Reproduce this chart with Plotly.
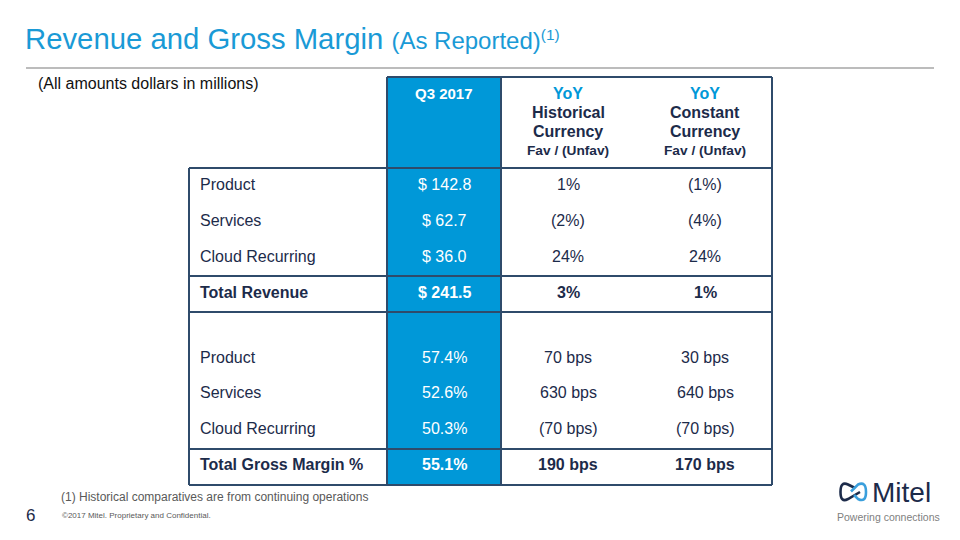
import plotly.graph_objects as go

# ---------------- data ----------------
title_main = "Revenue and Gross Margin"
title_sub = "(As Reported)"
title_sup = "(1)"
units_note = "(All amounts dollars in millions)"

col_q3_header = "Q3 2017"
col_hist_header = ["YoY", "Historical", "Currency", "Fav / (Unfav)"]
col_const_header = ["YoY", "Constant", "Currency", "Fav / (Unfav)"]

row_labels = ["Product", "Services", "Cloud Recurring", "Total Revenue",
              "Product", "Services", "Cloud Recurring", "Total Gross Margin %"]
q3_values = ["$ 142.8", "$ 62.7", "$ 36.0", "$ 241.5",
             "57.4%", "52.6%", "50.3%", "55.1%"]
yoy_hist = ["1%", "(2%)", "24%", "3%",
            "70 bps", "630 bps", "(70 bps)", "190 bps"]
yoy_const = ["(1%)", "(4%)", "24%", "1%",
             "30 bps", "640 bps", "(70 bps)", "170 bps"]
row_is_total = [False, False, False, True, False, False, False, True]

footnote = "(1) Historical comparatives are from continuing operations"
page_no = "6"
copyright_txt = "\u00a92017 Mitel. Proprietary and Confidential."
logo_word = "Mitel"
logo_tag = "Powering connections"

# ---------------- style / layout ----------------
FONT = "Liberation Sans, Arial, sans-serif"
BLUE = "#0098d8"
TITLE_BLUE = "#1a9ad6"
NAVY = "#1c2b4a"
BORDER = "#2f4b6b"
GREY = "#808080"

x_left, x_blue_l, x_blue_r, x_right = 189, 387, 501, 772
y_head_top, y_body_top, y_bottom = 77, 168, 485
row_lines = [276, 312, 449]
row_y = [184, 220, 256, 292, 357, 392, 428, 464]
x_label = 198
x_c2 = (x_blue_l + x_blue_r) / 2
x_c3, x_c4 = 568, 705
head_y = [93, 112, 131, 150]

fig = go.Figure()
fig.add_trace(go.Scatter(x=[0, 960], y=[0, 540], mode="markers",
                         marker=dict(opacity=0), hoverinfo="skip", showlegend=False))

shapes = []
# blue column
shapes.append(dict(type="rect", x0=x_blue_l, x1=x_blue_r, y0=y_head_top, y1=y_bottom,
                   fillcolor=BLUE, line=dict(width=0), layer="below"))
ln = dict(color=BORDER, width=2)
# header box
shapes.append(dict(type="line", x0=x_blue_l, x1=x_right, y0=y_head_top, y1=y_head_top, line=ln))
for xv, y0 in [(x_blue_l, y_head_top), (x_blue_r, y_head_top), (x_right, y_head_top), (x_left, y_body_top)]:
    shapes.append(dict(type="line", x0=xv, x1=xv, y0=y0, y1=y_bottom, line=ln))
for yv in [y_body_top] + row_lines + [y_bottom]:
    shapes.append(dict(type="line", x0=x_left, x1=x_right, y0=yv, y1=yv, line=ln))
# title rule
shapes.append(dict(type="line", x0=26, x1=934, y0=68, y1=68, line=dict(color="#a6a6a6", width=1.5)))

# logo icon (approximate bow-tie)
shapes.append(dict(type="path",
                   path="M 855,488 L 848,484.5 Q 840.5,481 840.5,492 Q 840.5,503 848,499 L 860,492",
                   line=dict(color=NAVY, width=2.6)))
shapes.append(dict(type="path",
                   path="M 851,491.5 L 858,484.5 Q 866,481 866,492 Q 866,503 858,499 L 854,495",
                   line=dict(color="#3a9fdc", width=2.6)))

ann = []
def txt(x, y, s, size, color=NAVY, bold=False, xanchor="center", yanchor="middle"):
    if bold:
        s = "<b>" + s + "</b>"
    ann.append(dict(x=x, y=y, xref="x", yref="y", text=s, showarrow=False,
                    xanchor=xanchor, yanchor=yanchor,
                    font=dict(family=FONT, size=size, color=color)))

# title
txt(23, 38, title_main + " <span style='font-size:24px'>" + title_sub + "</span>"
    + "<span style='font-size:22px'><sup>" + title_sup + "</sup></span>",
    29.3, TITLE_BLUE, xanchor="left")
txt(36, 83, units_note, 16, "#111111", xanchor="left")

# header
txt(x_c2, 93, col_q3_header, 15, "white", bold=True)
for i, (a, b) in enumerate(zip(col_hist_header, col_const_header)):
    color = BLUE if i == 0 else NAVY
    size = 13.7 if i == 3 else 16
    txt(x_c3, head_y[i], a, size, color, bold=True)
    txt(x_c4, head_y[i], b, size, color, bold=True)

# body
for lab, v2, v3, v4, y, tot in zip(row_labels, q3_values, yoy_hist, yoy_const, row_y, row_is_total):
    txt(x_label, y, lab, 16, NAVY, bold=tot, xanchor="left")
    txt(x_c2, y, v2, 16, "white", bold=tot)
    txt(x_c3, y, v3, 16, NAVY, bold=tot)
    txt(x_c4, y, v4, 16, NAVY, bold=tot)

# footer
txt(59, 497, footnote, 12, "#595959", xanchor="left")
txt(24, 515, page_no, 17, NAVY, xanchor="left")
txt(60, 515, copyright_txt, 8, "#595959", xanchor="left")
txt(870, 492, logo_word, 28, NAVY, xanchor="left")
txt(888, 517, logo_tag, 10.5, GREY)

fig.update_layout(
    width=960, height=540, margin=dict(l=0, r=0, t=0, b=0),
    paper_bgcolor="white", plot_bgcolor="white",
    xaxis=dict(range=[0, 960], visible=False, fixedrange=True),
    yaxis=dict(range=[540, 0], visible=False, fixedrange=True),
    shapes=shapes, annotations=ann, showlegend=False,
)
fig.write_html("out.html", config={"displayModeBar": False, "staticPlot": True},
               post_script="document.body.style.margin='0px';document.body.style.padding='0px';document.body.style.overflow='hidden';")
